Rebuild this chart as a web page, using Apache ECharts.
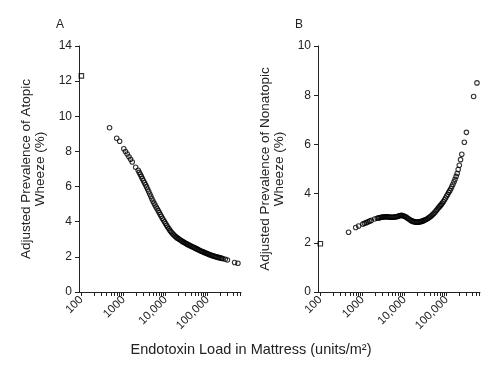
<!DOCTYPE html>
<html>
<head>
<meta charset="utf-8">
<script src="https://cdn.jsdelivr.net/npm/echarts@6/dist/echarts.min.js"></script>
<style>
  html, body { margin: 0; padding: 0; background: #fff; }
  #chart { width: 502px; height: 376px; }
</style>
</head>
<body>
<div id="chart"></div>
<script>
// endotoxin load of each mattress (units/m2), same children in both panels
const endotoxinLoad = [
  100, 468, 692, 813, 1020, 1120, 1230, 1350, 1480, 1620, 1950,
  2240, 2370, 2510, 2660, 2820, 2990, 3160, 3350, 3550, 3760,
  3980, 4220, 4470, 4730, 5010, 5310, 5620, 5960, 6310, 6680,
  7080, 7500, 7940, 8410, 8910, 9440, 10000, 10600, 11200, 11900,
  12600, 13300, 14100, 15000, 15800, 16800, 17800, 18800, 20000, 21100,
  22400, 23700, 25100, 26600, 28200, 29900, 31600, 33500, 35500, 37600,
  39800, 42200, 44700, 47300, 50100, 53100, 56200, 59600, 63100, 66800,
  70800, 75000, 79400, 84100, 89100, 94400, 100000, 106000, 112000, 119000,
  126000, 133000, 141000, 150000, 158000, 168000, 178000, 188000, 200000,
  214000, 229000, 263000, 295000, 437000, 525000
];

// panel A: adjusted prevalence of atopic wheeze (%)
const atopicWheeze = [
  12.3, 9.35, 8.75, 8.58, 8.15, 8.0, 7.85, 7.7, 7.55, 7.4, 7.1,
  6.93, 6.81, 6.70, 6.58, 6.45, 6.33, 6.22, 6.10, 5.98, 5.85,
  5.72, 5.58, 5.45, 5.31, 5.18, 5.06, 4.95, 4.84, 4.74, 4.63,
  4.52, 4.41, 4.31, 4.20, 4.10, 4.00, 3.90, 3.80, 3.70, 3.61,
  3.52, 3.44, 3.37, 3.30, 3.24, 3.18, 3.13, 3.08, 3.04, 3.00,
  2.96, 2.92, 2.88, 2.84, 2.81, 2.77, 2.74, 2.71, 2.68, 2.65,
  2.62, 2.59, 2.56, 2.53, 2.50, 2.47, 2.44, 2.41, 2.38, 2.35,
  2.32, 2.30, 2.27, 2.25, 2.22, 2.20, 2.17, 2.15, 2.12, 2.10,
  2.08, 2.06, 2.04, 2.02, 2.00, 1.99, 1.97, 1.96, 1.94,
  1.92, 1.90, 1.86, 1.82, 1.68, 1.64
];

// panel B: adjusted prevalence of nonatopic wheeze (%)
const nonatopicWheeze = [
  1.96, 2.43, 2.62, 2.68, 2.76, 2.79, 2.82, 2.85, 2.88, 2.91, 2.97,
  3.00, 3.01, 3.02, 3.03, 3.04, 3.05, 3.05, 3.06, 3.06, 3.06,
  3.06, 3.05, 3.05, 3.04, 3.04, 3.04, 3.05, 3.05, 3.06, 3.07,
  3.08, 3.10, 3.11, 3.12, 3.11, 3.09, 3.08, 3.06, 3.03, 3.00,
  2.97, 2.94, 2.91, 2.89, 2.87, 2.86, 2.85, 2.84, 2.84, 2.84,
  2.85, 2.86, 2.87, 2.88, 2.90, 2.92, 2.94, 2.96, 2.99, 3.02,
  3.05, 3.08, 3.12, 3.16, 3.20, 3.25, 3.30, 3.35, 3.41, 3.46,
  3.51, 3.56, 3.62, 3.68, 3.75, 3.82, 3.90, 3.97, 4.05, 4.12,
  4.20, 4.29, 4.38, 4.48, 4.58, 4.70, 4.82, 4.98, 5.15,
  5.38, 5.60, 6.09, 6.49, 7.95, 8.50
];

const xTickValues = [100, 1000, 10000, 100000];
const xTickLabels = ['100', '1000', '10,000', '100,000'];
const yMaxA = 14;
const yMaxB = 10;

const ink = '#222';
const font = 'Liberation Sans, Arial, Helvetica, sans-serif';

// 1..9 ticks of every decade, up to 600,000
const minorTicks = [];
for (let d = 100; d <= 100000; d *= 10) {
  for (let m = 1; m <= 9; m++) {
    if (d * m <= 600000) minorTicks.push(d * m);
  }
}

function xAxisFor(gridIndex) {
  return {
    type: 'log',
    logBase: 10,
    gridIndex: gridIndex,
    min: 88,
    max: 620000,
    axisLine: { onZero: false, lineStyle: { color: ink, width: 1 } },
    axisTick: { customValues: minorTicks, length: 4, lineStyle: { color: ink, width: 1 } },
    axisLabel: {
      customValues: xTickValues,
      rotate: 45,
      margin: 6,
      fontSize: 11.5,
      color: ink,
      fontFamily: font,
      formatter: (v) => {
        const i = xTickValues.findIndex(t => Math.abs(t - v) / t < 1e-6);
        return i >= 0 ? xTickLabels[i] : '';
      },
    },
    splitLine: { show: false },
    minorSplitLine: { show: false },
  };
}

function yAxisFor(gridIndex, max, name) {
  return {
    type: 'value',
    gridIndex: gridIndex,
    min: 0,
    max: max,
    interval: 2,
    name: name,
    nameLocation: 'middle',
    nameRotate: 90,
    nameGap: 32,
    nameTextStyle: { fontSize: 13.5, lineHeight: 14, color: ink, fontFamily: font },
    axisLine: { show: true, lineStyle: { color: ink, width: 1 } },
    axisTick: { show: true, length: 4, lineStyle: { color: ink, width: 1 } },
    axisLabel: { fontSize: 12, margin: 7, color: ink, fontFamily: font },
    splitLine: { show: false },
  };
}

function scatterFor(index, values) {
  return {
    type: 'scatter',
    xAxisIndex: index,
    yAxisIndex: index,
    data: endotoxinLoad.map((x, i) => [x, values[i]]),
    symbol: (val) => (val[0] <= 100 ? 'rect' : 'circle'),
    symbolSize: 4.5,
    itemStyle: { color: 'rgba(0,0,0,0)', borderColor: '#000', borderWidth: 1.1 },
    silent: true,
    animation: false,
  };
}

const chart = echarts.init(document.getElementById('chart'), null, { renderer: 'canvas' });

chart.setOption({
  backgroundColor: '#fff',
  animation: false,
  textStyle: { fontFamily: font },
  title: [
    { text: 'A', left: 56, top: 19, padding: 0, textStyle: { fontSize: 12, fontWeight: 'normal', color: ink, fontFamily: font } },
    { text: 'B', left: 295, top: 19, padding: 0, textStyle: { fontSize: 12, fontWeight: 'normal', color: ink, fontFamily: font } },
    { text: 'Endotoxin Load in Mattress (units/m²)', left: 'center', top: 342, padding: 0,
      textStyle: { fontSize: 14.5, fontWeight: 'normal', color: ink, fontFamily: font } },
  ],
  grid: [
    { left: 79, top: 46, width: 162, height: 246 },
    { left: 318, top: 46, width: 162, height: 246 },
  ],
  xAxis: [xAxisFor(0), xAxisFor(1)],
  yAxis: [
    yAxisFor(0, yMaxA, 'Adjusted Prevalence of Atopic\nWheeze (%)'),
    yAxisFor(1, yMaxB, 'Adjusted Prevalence of Nonatopic\nWheeze (%)'),
  ],
  series: [scatterFor(0, atopicWheeze), scatterFor(1, nonatopicWheeze)],
});
</script>
</body>
</html>
